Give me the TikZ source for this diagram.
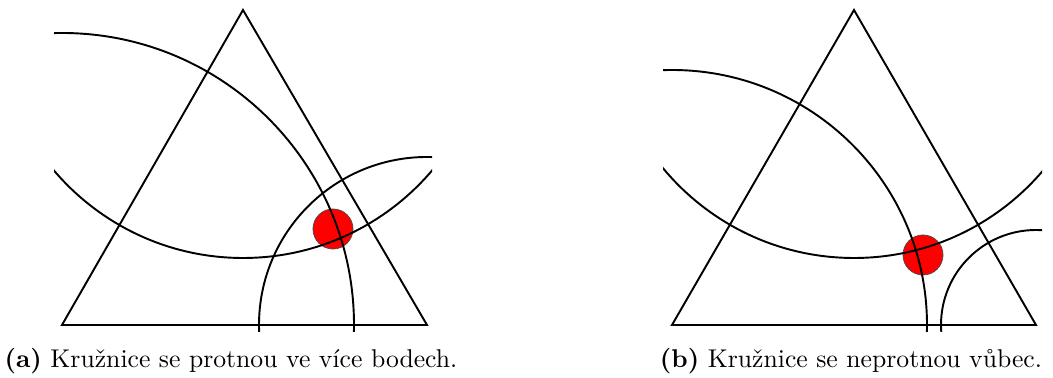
\documentclass[tikz,border=0pt]{standalone}
\usepackage{fontspec}
\begin{document}
\begin{tikzpicture}[x=0.41667pt, y=0.41667pt,
  edge/.style={line width=0.8pt},
  ring/.style={line width=0.8pt},
  dot/.style={circle, fill=red, draw=black!70, line width=0.3pt, inner sep=0pt, minimum size=16.7pt},
  subcap/.style={anchor=base, font=\fontsize{10.7pt}{13pt}\selectfont}
]
\useasboundingbox (0,0) rectangle (1053,378);
% (a) circles meet in more points
\coordinate (a1) at (62,53);
\coordinate (b1) at (427,53);
\coordinate (c1) at (243,368);
\node[dot] (hit1) at (333,149) {};
\draw[edge] (a1) -- (b1) -- (c1) -- cycle;
\begin{scope}
  \clip (54,46) rectangle (432,378);
  \draw[ring] (a1) circle (292);
  \draw[ring] (c1) circle (248);
  \draw[ring] (b1) circle (168);
\end{scope}
\node[subcap] (capa) at (231,10) {\textbf{(a)} Kružnice se protnou ve více bodech.};
% (b) circles do not meet
\coordinate (a2) at (672,53);
\coordinate (b2) at (1036,53);
\coordinate (c2) at (854,368);
\node[dot] (hit2) at (923,123) {};
\draw[edge] (a2) -- (b2) -- (c2) -- cycle;
\begin{scope}
  \clip (663,46) rectangle (1042,378);
  \draw[ring] (a2) circle (255);
  \draw[ring] (c2) circle (248);
  \draw[ring] (b2) circle (95);
\end{scope}
\node[subcap] (capb) at (851,10) {\textbf{(b)} Kružnice se neprotnou vůbec.};
\end{tikzpicture}
\end{document}
